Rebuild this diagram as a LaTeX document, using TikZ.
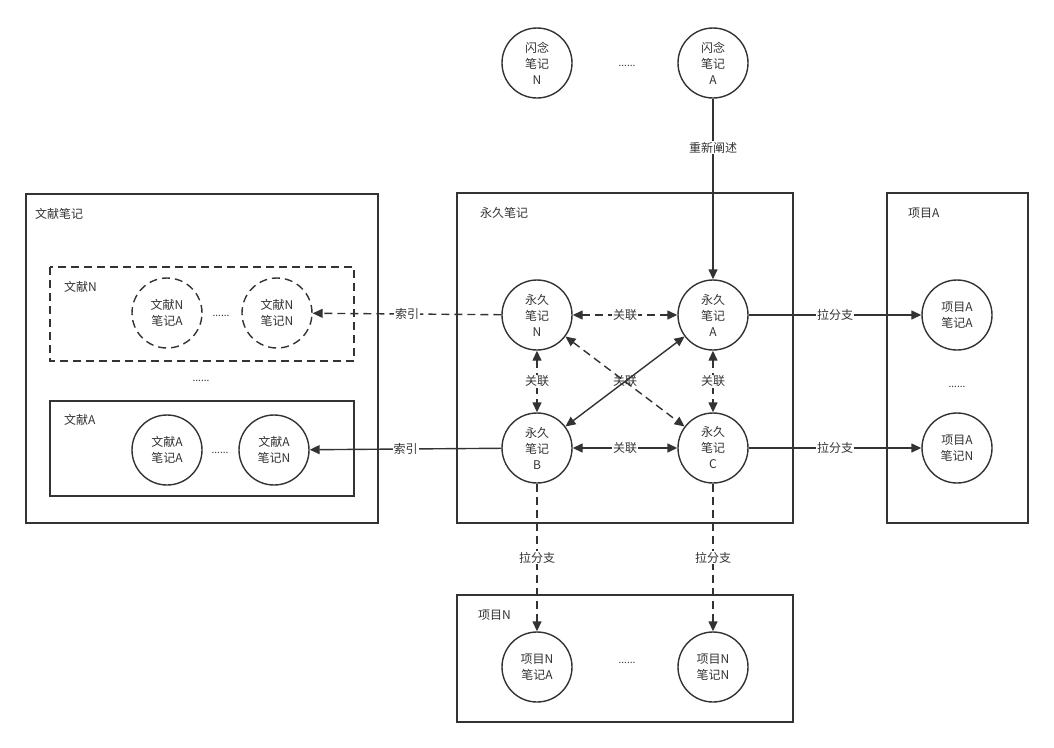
\documentclass[tikz,border=0pt]{standalone}
\usepackage{fontspec}
\setmainfont{Noto Sans CJK SC}
\usetikzlibrary{arrows.meta}
\definecolor{lc}{HTML}{333333}
\definecolor{tc}{HTML}{333333}
\tikzset{
  note/.style={circle, draw=lc, line width=1.4pt, minimum size=70pt, inner sep=0pt, align=center, text=tc, font=\fontsize{12}{16}\selectfont},
  frame/.style={draw=lc, line width=1.4pt},
  dsh/.style={dash pattern=on 8pt off 5pt},
  conn/.style={draw=lc, line width=1.4pt, -{Triangle[length=10pt,width=9pt]}},
  bconn/.style={draw=lc, line width=1.4pt, {Triangle[length=10pt,width=9pt]}-{Triangle[length=10pt,width=9pt]}},
  lbl/.style={fill=white, inner sep=1pt, text=tc, font=\fontsize{12}{14}\selectfont},
  ttl/.style={anchor=west, inner sep=0pt, text=tc, font=\fontsize{12}{14}\selectfont},
  dots/.style={inner sep=0pt, text=tc, font=\fontsize{10}{12}\selectfont}
}
\begin{document}
\begin{tikzpicture}[x=1pt,y=-1pt]
\useasboundingbox[fill=white] (0,0) rectangle (1054,747);
% frames
\draw[frame] (26,194) rectangle (378,523);
\node[ttl] (tLit) at (35,214) {文献笔记};
\draw[frame,dsh] (50,267) rectangle (354,361);
\node[ttl] (tLitN) at (64,287) {文献N};
\draw[frame] (50,401) rectangle (354,496);
\node[ttl] (tLitA) at (64,420) {文献A};
\draw[frame] (457,193) rectangle (793,523);
\node[ttl] (tPerm) at (480,213) {永久笔记};
\draw[frame] (887,193) rectangle (1028,523);
\node[ttl] (tPA) at (908,213) {项目A};
\draw[frame] (457,595) rectangle (793,722);
\node[ttl] (tPN) at (478,615) {项目N};
% flash notes
\node[note] (fN) at (537,63) {闪念\\笔记\\N};
\node[note] (fA) at (713,63) {闪念\\笔记\\A};
\node[dots] (dF) at (627,66) {......};
% literature notes
\node[note,dsh] (lNA) at (167,313) {文献N\\笔记A};
\node[note,dsh] (lNN) at (277,313) {文献N\\笔记N};
\node[dots] (dLN) at (221,316) {......};
\node[dots] (dL) at (201,381) {......};
\node[note] (lAA) at (167,450) {文献A\\笔记A};
\node[note] (lAN) at (274,450) {文献A\\笔记N};
\node[dots] (dLA) at (220,453) {......};
% permanent notes
\node[note] (pN) at (537,315) {永久\\笔记\\N};
\node[note] (pA) at (713,315) {永久\\笔记\\A};
\node[note] (pB) at (537,448) {永久\\笔记\\B};
\node[note] (pC) at (713,448) {永久\\笔记\\C};
% project A
\node[note] (aA) at (957,315) {项目A\\笔记A};
\node[note] (aN) at (957,448) {项目A\\笔记N};
\node[dots] (dA) at (957,387) {......};
% project N
\node[note] (nA) at (537,667) {项目N\\笔记A};
\node[note] (nN) at (713,667) {项目N\\笔记N};
\node[dots] (dN) at (627,663) {......};
% connectors
\draw[conn] (fA) -- node[lbl,pos=0.27] {重新阐述} (pA);
\draw[conn,dsh] (pN) -- node[lbl] {索引} (lNN);
\draw[conn] (pB) -- node[lbl] {索引} (lAN);
\draw[bconn,dsh] (pN) -- node[lbl] {关联} (pA);
\draw[bconn,dsh] (pN) -- node[lbl] {关联} (pB);
\draw[bconn,dsh] (pA) -- node[lbl] {关联} (pC);
\draw[bconn] (pB) -- node[lbl] {关联} (pC);
\draw[bconn,dsh] (pN) -- (pC);
\draw[bconn] (pB) -- node[lbl,fill=none] {关联} (pA);
\draw[conn] (pA) -- node[lbl] {拉分支} (aA);
\draw[conn] (pC) -- node[lbl] {拉分支} (aN);
\draw[conn,dsh] (pB) -- node[lbl] {拉分支} (nA);
\draw[conn,dsh] (pC) -- node[lbl] {拉分支} (nN);
\end{tikzpicture}
\end{document}
